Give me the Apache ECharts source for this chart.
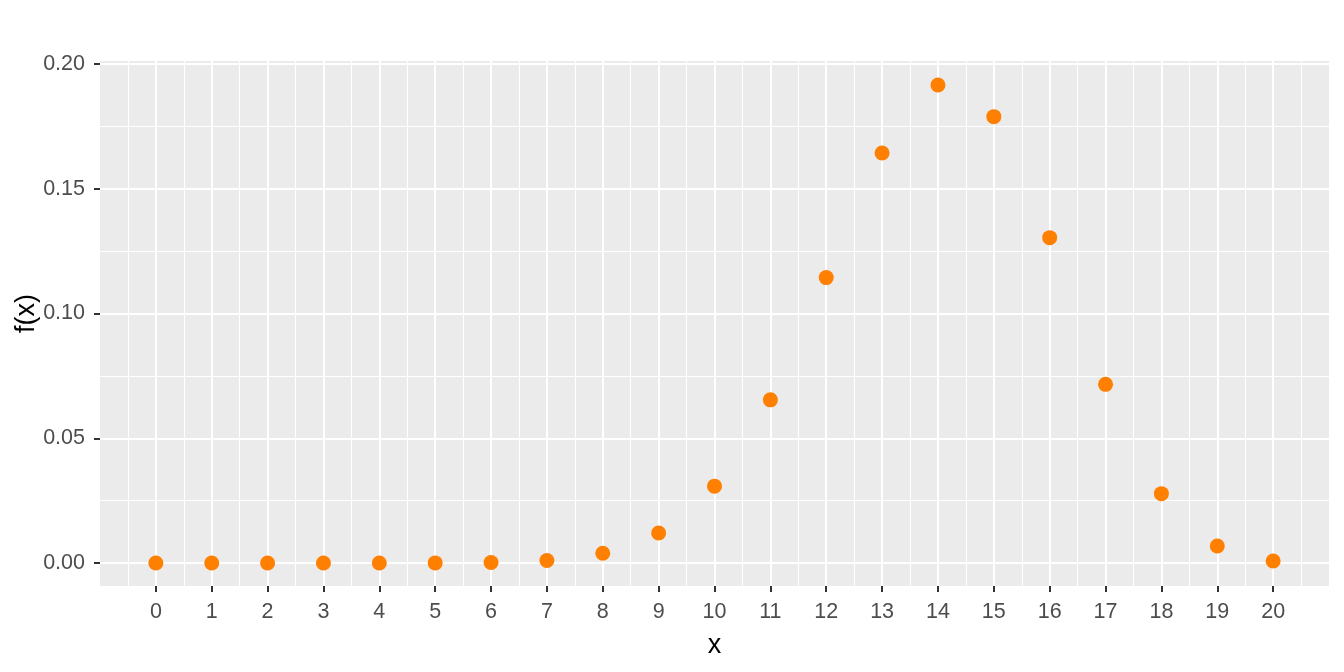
<!DOCTYPE html>
<html>
<head>
<meta charset="utf-8">
<script src="https://cdn.jsdelivr.net/npm/echarts@6/dist/echarts.min.js"></script>
<style>html,body{margin:0;padding:0;background:#fff;}#c{width:1344px;height:672px;}</style>
</head>
<body>
<div id="c"></div>
<script>
// Data
var xValues = [0,1,2,3,4,5,6,7,8,9,10,11,12,13,14,15,16,17,18,19,20];
var fValues = [0.0000,0.0000,0.0000,0.0000,0.000005,0.00004,0.0002,0.0010,0.0039,0.0120,0.0308,0.0654,0.1144,0.1643,0.1916,0.1789,0.1304,0.0716,0.0278,0.0068,0.0008];
var yTicks = [0, 0.05, 0.10, 0.15, 0.20];

var FONT = '"Liberation Sans Narrow", "Liberation Sans", Arial, sans-serif';
var points = xValues.map(function (x, i) { return [x, fValues[i]]; });

var chart = echarts.init(document.getElementById('c'), null, {renderer: 'canvas'});
chart.setOption({
  animation: false,
  backgroundColor: '#ffffff',
  grid: [
    {left: 100, right: 15, top: 61, bottom: 86, show: true, backgroundColor: '#EBEBEB', borderWidth: 0, z: -5, outerBoundsMode: 'none', containLabel: false},
    {left: 100, right: 15, top: 64, bottom: 109, show: false, outerBoundsMode: 'none', containLabel: false}
  ],
  xAxis: [
    {
      gridIndex: 0, type: 'value', min: -1, max: 21, interval: 1,
      name: 'x', nameLocation: 'middle', nameGap: 46, nameMoveOverlap: false,
      nameTextStyle: {color: '#000', fontSize: 27, fontFamily: FONT},
      axisLine: {show: false, onZero: false},
      axisTick: {show: true, length: 6, lineStyle: {color: '#333333', width: 2}},
      axisLabel: {
        color: '#4D4D4D', fontSize: 21.5, fontFamily: FONT, margin: 15,
        showMinLabel: false, showMaxLabel: false,
        formatter: function (v) { return (v < 0 || v > 20) ? '' : String(v); }
      },
      splitLine: {show: true, showMinLine: false, showMaxLine: false, lineStyle: {color: '#FFFFFF', width: 2}},
      minorTick: {show: false, splitNumber: 2},
      minorSplitLine: {show: true, lineStyle: {color: '#FFFFFF', width: 1.1}}
    },
    {
      gridIndex: 1, type: 'value', min: -1, max: 21, interval: 1, show: false,
      axisLine: {onZero: false},
      splitLine: {show: false}
    }
  ],
  yAxis: [
    {gridIndex: 0, type: 'value', min: 0, max: 1, show: false, axisLine: {onZero: false}, splitLine: {show: false}},
    {
      gridIndex: 1, type: 'value', min: yTicks[0], max: yTicks[yTicks.length - 1], interval: 0.05,
      name: 'f(x)', nameLocation: 'middle', nameGap: 60, nameRotate: 90, nameMoveOverlap: false,
      nameTextStyle: {color: '#000', fontSize: 27, fontFamily: FONT},
      axisLine: {show: false, onZero: false},
      axisTick: {show: true, length: 6, lineStyle: {color: '#333333', width: 2}},
      axisLabel: {
        color: '#4D4D4D', fontSize: 21.5, fontFamily: FONT, margin: 15,
        formatter: function (v) { return v.toFixed(2); }
      },
      splitLine: {show: true, lineStyle: {color: '#FFFFFF', width: 2}},
      minorTick: {show: false, splitNumber: 2},
      minorSplitLine: {show: true, lineStyle: {color: '#FFFFFF', width: 1.1}}
    }
  ],
  series: [{
    type: 'scatter',
    xAxisIndex: 1, yAxisIndex: 1,
    data: points,
    symbol: 'circle', symbolSize: 15,
    clip: false,
    itemStyle: {color: '#FF7F00', opacity: 1},
    z: 10
  }]
});
</script>
</body>
</html>
